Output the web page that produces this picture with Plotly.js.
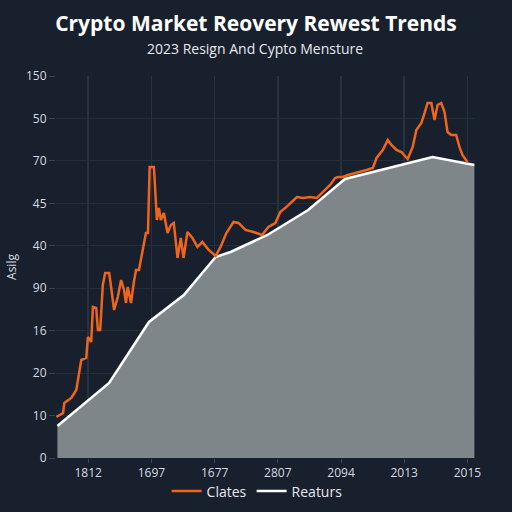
<!DOCTYPE html>
<html>
<head>
<meta charset="utf-8">
<script src="https://cdn.plot.ly/plotly-3.0.1.min.js"></script>
<style>html,body{margin:0;padding:0;background:#18202e;}#chart{width:512px;height:512px;}</style>
</head>
<body>
<div id="chart"></div>
<script>
// Orange series ("Clates")
const clatesX = [-5.04,-3.98,-3.78,-2.68,-1.89,-1.10,-0.31,-0.05,0.47,0.74,1.26,1.53,1.89,2.31,2.68,3.31,3.62,4.09,4.68,5.20,5.67,5.98,6.25,6.77,7.20,7.56,8.03,8.61,9.13,9.45,9.72,10.39,10.87,11.18,11.50,11.97,12.55,13.07,13.54,14.13,14.65,15.07,15.70,16.49,17.28,18.06,19.06,20.16,20.94,21.86,22.99,23.78,24.88,26.14,27.51,28.50,29.61,30.39,31.45,33.02,34.02,35.12,36.17,37.48,38.27,39.06,39.53,40.31,41.10,44.05,45.04,45.62,46.61,47.40,47.98,48.77,49.56,50.55,51.34,51.92,52.71,53.23,53.70,54.28,54.80,55.28,55.86,56.38,56.85,57.43,58.22,58.74,59.21,60.00];
const clatesY = [9.66,10.6,12.96,14.14,16.02,23.09,23.56,28.51,27.33,35.58,35.34,30.16,30.16,40.76,43.59,43.59,40.29,34.87,37.94,41.94,39.59,36.52,40.29,36.52,41.23,44.30,44.30,49.01,53.02,53.02,68.57,68.57,56.08,58.91,56.08,57.73,53.02,54.90,55.37,47.13,51.84,47.13,53.25,51.84,49.72,50.90,49.01,47.60,49.72,53.02,55.61,55.37,53.72,53.25,52.54,54.43,55.37,57.96,59.28,61.50,61.26,61.50,61.26,63.15,64.33,65.98,66.21,66.21,66.68,67.86,68.33,70.69,72.57,74.93,73.75,72.57,72.10,70.45,73.28,77.29,78.94,81.29,83.65,83.65,79.64,83.18,83.65,81.53,76.81,76.11,76.11,73.28,71.39,69.74];
// White area series ("Reaturs")
const reatursX = [-4.88,3.31,9.61,15.12,20.16,22.52,28.35,34.80,40.63,50.39,54.49,61.10];
const reatursY = [7.54,17.67,32.05,38.41,47.36,48.54,52.54,58.44,65.74,69.51,70.92,69.04];
// Tick labels
const xTickVals = [0,10,20,30,40,50,60];
const xTickText = ['1812','1697','1677','2807','2094','2013','2015'];
const yTickVals = [0,10,20,30,40,50,60,70,80,90];
const yTickText = ['0','10','20','16','90','40','45','70','50','150'];

const traces = [
  {x: reatursX, y: reatursY, type: 'scatter', mode: 'lines', fill: 'tozeroy',
   fillcolor: '#7e8689', line: {width: 0, color: '#7e8689'}, showlegend: false, hoverinfo: 'skip'},
  {x: reatursX, y: reatursY, type: 'scatter', mode: 'lines', name: 'Reaturs',
   line: {color: '#ffffff', width: 2.5}},
  {x: clatesX, y: clatesY, type: 'scatter', mode: 'lines', name: 'Clates',
   line: {color: '#f0651c', width: 2.5}}
];

const layout = {
  width: 512, height: 512,
  paper_bgcolor: '#18202e', plot_bgcolor: '#18202e',
  margin: {l: 56, r: 37, t: 76, b: 54},
  font: {family: 'Open Sans, sans-serif', color: '#d6dae0', size: 12},
  title: {text: '<b>Crypto Market Reovery Rewest Trends</b>', x: 0.5, xanchor: 'center',
          y: 0.953, yanchor: 'middle', font: {size: 21, color: '#ffffff', family: 'Open Sans, sans-serif'}},
  annotations: [{text: '2023 Resign And Cypto Mensture', xref: 'paper', yref: 'paper',
                 x: 0.475, y: 1.073, xanchor: 'center', yanchor: 'middle', showarrow: false,
                 font: {size: 14, color: '#e6e8ec'}}],
  xaxis: {range: [-5.1, 61.2], tickvals: xTickVals, ticktext: xTickText, showgrid: true, automargin: false,
          gridcolor: '#283141', gridwidth: 1.5, zeroline: false, showline: false,
          ticks: 'outside', ticklen: 4, tickcolor: '#3a4352', tickfont: {size: 12, color: '#d6dae0'}},
  yaxis: {range: [0, 90], tickvals: yTickVals, ticktext: yTickText, showgrid: true, automargin: false,
          gridcolor: '#242d3c', gridwidth: 1, zeroline: false, showline: false,
          ticks: 'outside', ticklen: 6, tickcolor: '#3a4352', tickfont: {size: 12, color: '#d6dae0'},
          title: {text: 'Asilg', standoff: 6, font: {size: 12, color: '#d6dae0'}}},
  legend: {orientation: 'h', x: 0.48, xanchor: 'center', yref: 'container', y: 0.04, yanchor: 'middle',
           traceorder: 'reversed', font: {size: 14, color: '#e6e8ec'}, bgcolor: 'rgba(0,0,0,0)'},
  showlegend: true
};

Plotly.newPlot('chart', traces, layout, {displayModeBar: false, staticPlot: true});
</script>
</body>
</html>
